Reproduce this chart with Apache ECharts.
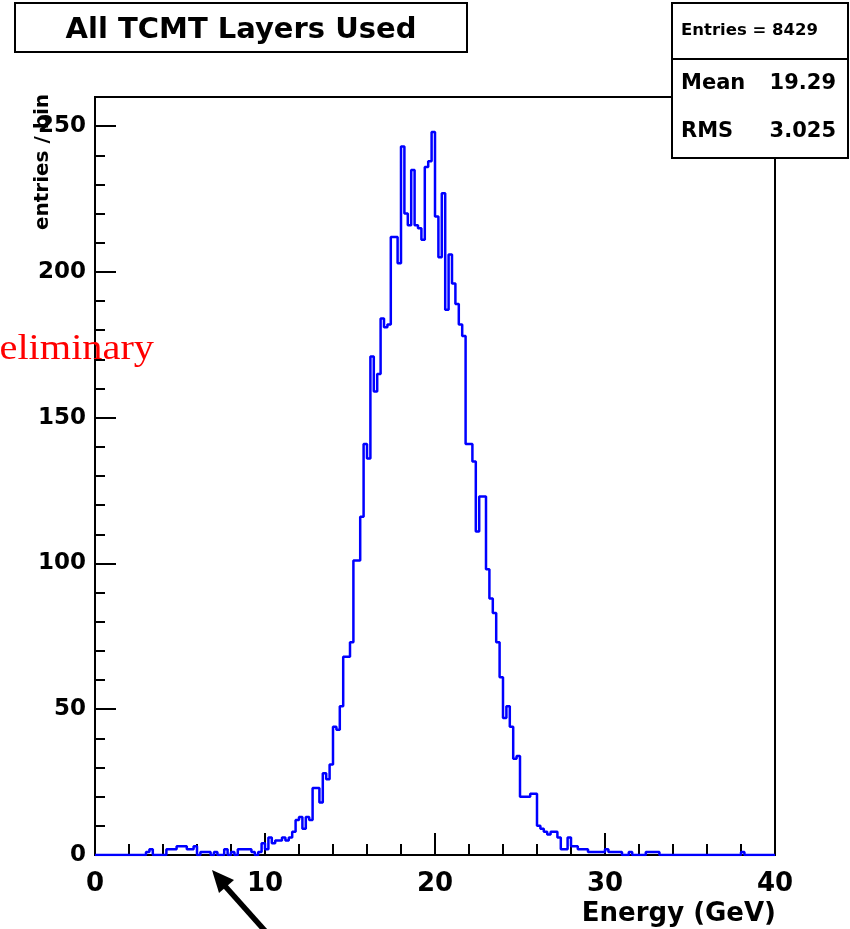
<!DOCTYPE html>
<html>
<head>
<meta charset="utf-8">
<title>All TCMT Layers Used</title>
<script src="https://cdn.jsdelivr.net/npm/echarts@6/dist/echarts.min.js"></script>
<style>
html, body { margin: 0; padding: 0; background: #fff; }
#chart { width: 850px; height: 929px; }
</style>
</head>
<body>
<div id="chart"></div>
<script>
// histogram: 200 bins of 0.2 GeV from 0 to 40
var binWidth = 0.2;
var xMin = 0, xMax = 40;
var yMax = 260;
var counts = [
    0, 0, 0, 0, 0, 0, 0, 0, 0, 0,
    0, 0, 0, 0, 0, 1, 2, 0, 0, 0,
    0, 2, 2, 2, 3, 3, 3, 2, 2, 3,
    0, 1, 1, 1, 0, 1, 0, 0, 2, 0,
    1, 0, 2, 2, 2, 2, 1, 0, 1, 4,
    2, 6, 4, 5, 5, 6, 5, 6, 8, 12,
    13, 9, 13, 12, 23, 23, 18, 28, 26, 31,
    44, 43, 51, 68, 68, 73, 101, 101, 116, 141,
    136, 171, 159, 165, 184, 181, 182, 212, 212, 203,
    243, 220, 216, 235, 216, 215, 211, 236, 238, 248,
    219, 205, 227, 187, 206, 196, 189, 182, 178, 141,
    141, 135, 111, 123, 123, 98, 88, 83, 73, 61,
    47, 51, 44, 33, 34, 20, 20, 20, 21, 21,
    10, 9, 8, 7, 8, 8, 6, 2, 2, 6,
    3, 3, 2, 2, 2, 1, 1, 1, 1, 1,
    2, 1, 1, 1, 1, 0, 0, 1, 0, 0,
    0, 0, 1, 1, 1, 1, 0, 0, 0, 0,
    0, 0, 0, 0, 0, 0, 0, 0, 0, 0,
    0, 0, 0, 0, 0, 0, 0, 0, 0, 0,
    1, 0, 0, 0, 0, 0, 0, 0, 0, 0
];
var xTickLabels = [0, 10, 20, 30, 40];
var yTickLabels = [0, 50, 100, 150, 200, 250];
var titleText = 'All TCMT Layers Used';
var statsEntries = 'Entries = 8429';
var statsNames = ['Mean', 'RMS'];
var statsValues = ['19.29', '3.025'];

var myChart = echarts.init(document.getElementById('chart'));

var histData = [];
counts.forEach(function (c, i) {
    histData.push([+(i * binWidth).toFixed(1), c]);
});
histData.push([xMax, counts[counts.length - 1]]);

var FONT = 'DejaVu Sans';
var tickStyle = { color: '#000', width: 2 };

var option = {
    animation: false,
    backgroundColor: '#fff',
    grid: {
        left: 95, top: 97, width: 680, height: 758,
        show: true, borderColor: '#000', borderWidth: 2, backgroundColor: '#fff'
    },
    xAxis: [{
        // small ticks every 2 GeV
        type: 'value', min: xMin, max: xMax, interval: 2, position: 'bottom',
        axisLine: { show: true, onZero: false, lineStyle: tickStyle },
        axisTick: { inside: true, length: 11, lineStyle: tickStyle },
        axisLabel: { show: false },
        splitLine: { show: false }
    }, {
        type: 'value', min: xMin, max: xMax, interval: 10, position: 'bottom',
        axisLine: { show: false, onZero: false },
        axisTick: { inside: true, length: 22, lineStyle: tickStyle },
        axisLabel: {
            margin: 16, color: '#000', fontFamily: FONT, fontWeight: 'bold', fontSize: 26,
            formatter: function (v) { return xTickLabels.indexOf(v) >= 0 ? String(v) : ''; }
        },
        splitLine: { show: false }
    }],
    yAxis: [{
        type: 'value', min: 0, max: yMax, interval: 10, position: 'left',
        axisLine: { show: true, onZero: false, lineStyle: tickStyle },
        axisTick: { inside: true, length: 10, lineStyle: tickStyle },
        axisLabel: { show: false },
        splitLine: { show: false }
    }, {
        type: 'value', min: 0, max: yMax, interval: 50, position: 'left',
        axisLine: { show: false, onZero: false },
        axisTick: { inside: true, length: 21, lineStyle: tickStyle },
        axisLabel: {
            margin: 9, color: '#000', fontFamily: FONT, fontWeight: 'bold', fontSize: 23,
            showMaxLabel: false,
            formatter: function (v) { return yTickLabels.indexOf(v) >= 0 ? String(v) : ''; }
        },
        splitLine: { show: false }
    }],
    series: [{
        type: 'line',
        step: 'end',
        xAxisIndex: 0,
        yAxisIndex: 0,
        symbol: 'none',
        lineStyle: { color: '#0000ff', width: 2.5 },
        data: histData,
        z: 3
    }],
    graphic: [
        // title box
        {
            type: 'rect', z: 100,
            shape: { x: 15, y: 3, width: 452, height: 49 },
            style: { fill: '#fff', stroke: '#000', lineWidth: 2 }
        },
        {
            type: 'text', z: 101, x: 241, y: 30,
            style: {
                text: titleText, fill: '#000', font: 'bold 29px "DejaVu Sans"',
                textAlign: 'center', textVerticalAlign: 'middle'
            }
        },
        // stats box
        {
            type: 'rect', z: 100,
            shape: { x: 672, y: 3, width: 176, height: 155 },
            style: { fill: '#fff', stroke: '#000', lineWidth: 2 }
        },
        {
            type: 'line', z: 101,
            shape: { x1: 672, y1: 59, x2: 848, y2: 59 },
            style: { stroke: '#000', lineWidth: 2 }
        },
        {
            type: 'text', z: 101, x: 681, y: 31,
            style: { text: statsEntries, fill: '#000', font: 'bold 16.5px "DejaVu Sans"', textVerticalAlign: 'middle' }
        },
        {
            type: 'text', z: 101, x: 681, y: 84,
            style: { text: statsNames[0], fill: '#000', font: 'bold 21px "DejaVu Sans"', textVerticalAlign: 'middle' }
        },
        {
            type: 'text', z: 101, x: 836, y: 84,
            style: { text: statsValues[0], fill: '#000', font: 'bold 21px "DejaVu Sans"', textAlign: 'right', textVerticalAlign: 'middle' }
        },
        {
            type: 'text', z: 101, x: 681, y: 132,
            style: { text: statsNames[1], fill: '#000', font: 'bold 21px "DejaVu Sans"', textVerticalAlign: 'middle' }
        },
        {
            type: 'text', z: 101, x: 836, y: 132,
            style: { text: statsValues[1], fill: '#000', font: 'bold 21px "DejaVu Sans"', textAlign: 'right', textVerticalAlign: 'middle' }
        },
        // y axis title
        {
            type: 'text', z: 90, x: 43, y: 162, rotation: Math.PI / 2,
            style: {
                text: 'entries / bin', fill: '#000', font: 'bold 20px "DejaVu Sans"',
                textAlign: 'center', textVerticalAlign: 'middle'
            }
        },
        // x axis title
        {
            type: 'text', z: 90, x: 776, y: 914,
            style: {
                text: 'Energy (GeV)', fill: '#000', font: 'bold 26px "DejaVu Sans"',
                textAlign: 'right', textVerticalAlign: 'middle'
            }
        },
        // "Preliminary" stamp, cut by the left edge
        {
            type: 'text', z: 90, x: 154, y: 350, scaleX: 1.12,
            style: {
                text: 'Preliminary', fill: '#ff0000', font: '36px "Liberation Serif"',
                textAlign: 'right', textVerticalAlign: 'middle'
            }
        },
        // arrow
        {
            type: 'line', z: 90,
            shape: { x1: 275, y1: 942, x2: 225, y2: 886 },
            style: { stroke: '#000', lineWidth: 5.5 }
        },
        {
            type: 'polygon', z: 90,
            shape: { points: [[212, 870], [234, 880], [219, 893]] },
            style: { fill: '#000' }
        }
    ]
};

myChart.setOption(option);
</script>
</body>
</html>
